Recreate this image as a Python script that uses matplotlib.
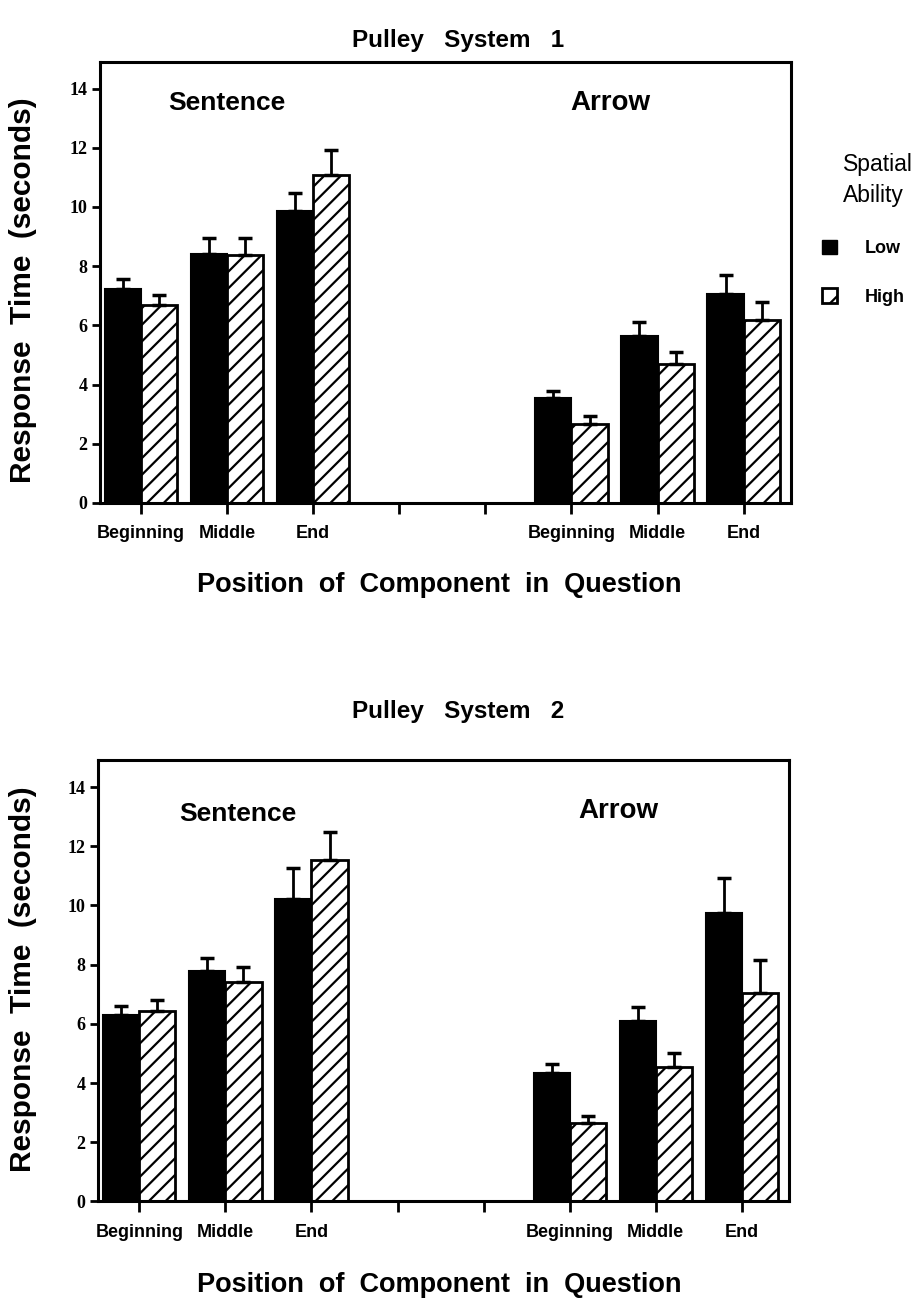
#! /usr/bin/env python3

import matplotlib
matplotlib.use("Agg")
import matplotlib.pyplot as plt
import matplotlib.patches as mpatches
import numpy as np

# group positions on the x axis (two empty slots between Sentence and Arrow)
positions = [0, 1, 2, 5, 6, 7]
tick_pos = [0, 1, 2, 3, 4, 5, 6, 7]
tick_labels = ['Beginning', 'Middle', 'End', '', '', 'Beginning', 'Middle', 'End']

# Pulley System 1
low1 = [7.23, 8.42, 9.85, 3.55, 5.63, 7.06]
low1_err = [0.34, 0.53, 0.62, 0.22, 0.48, 0.63]
high1 = [6.69, 8.38, 11.09, 2.68, 4.70, 6.17]
high1_err = [0.34, 0.57, 0.85, 0.25, 0.39, 0.62]

# Pulley System 2
low2 = [6.29, 7.79, 10.23, 4.33, 6.09, 9.73]
low2_err = [0.31, 0.45, 1.02, 0.31, 0.49, 1.21]
high2 = [6.43, 7.40, 11.55, 2.64, 4.53, 7.05]
high2_err = [0.37, 0.53, 0.93, 0.25, 0.49, 1.10]

SANS = ['Liberation Sans', 'DejaVu Sans']
SERIF = ['Liberation Serif', 'DejaVu Serif']

plt.rcParams['hatch.linewidth'] = 1.6
plt.rcParams['font.family'] = SANS


def draw_panel(ax, low, low_err, high, high_err, sent_xy, arrow_xy):
    w = 0.42
    x = np.array(positions, dtype=float)
    ax.bar(x - w, low, width=w, align='edge', color='black', edgecolor='black',
           linewidth=1.5, label='Low', zorder=2)
    ax.bar(x, high, width=w, align='edge', color='white', edgecolor='black',
           hatch='//', linewidth=2, label='High', zorder=2)
    ax.errorbar(x - w / 2, low, yerr=[np.zeros(len(low)), low_err], fmt='none',
                ecolor='black', elinewidth=2, capsize=5, capthick=2.5, zorder=3)
    ax.errorbar(x + w / 2, high, yerr=[np.zeros(len(high)), high_err], fmt='none',
                ecolor='black', elinewidth=2, capsize=5, capthick=2.5, zorder=3)

    ax.set_xlim(-0.48, 7.55)
    ax.set_ylim(0, 14.9)
    ax.set_yticks(range(0, 15, 2))
    ax.set_yticklabels([str(v) for v in range(0, 15, 2)], family=SERIF,
                       fontsize=13, fontweight='bold')
    ax.set_xticks(tick_pos)
    ax.set_xticklabels(tick_labels, fontsize=13, fontweight='bold')
    ax.tick_params(axis='x', direction='out', length=8, width=2, pad=8)
    ax.tick_params(axis='y', direction='out', length=6, width=2, pad=3)
    for s in ax.spines.values():
        s.set_linewidth(2.2)

    ax.text(sent_xy[0], sent_xy[1], 'Sentence', ha='center', va='center',
            fontsize=19, fontweight='bold')
    ax.text(arrow_xy[0], arrow_xy[1], 'Arrow', ha='center', va='center',
            fontsize=20, fontweight='bold')


fig = plt.figure(figsize=(9.16, 13.01), dpi=100)
ax1 = fig.add_axes([0.109, 0.6134, 0.7545, 0.3390])
ax2 = fig.add_axes([0.107, 0.0765, 0.7545, 0.3390])

draw_panel(ax1, low1, low1_err, high1, high1_err, (1.0, 13.5), (5.45, 13.5))
draw_panel(ax2, low2, low2_err, high2, high2_err, (1.15, 13.1), (5.57, 13.2))

fig.text(0.50, 0.969, 'Pulley   System   1', ha='center', va='center',
         fontsize=17.5, fontweight='bold')
fig.text(0.50, 0.453, 'Pulley   System   2', ha='center', va='center',
         fontsize=17.5, fontweight='bold')

for yc in (0.550, 0.0125):
    fig.text(0.480, yc, 'Position  of  Component  in  Question', ha='center',
             va='center', fontsize=19.5, fontweight='bold')

for yc in (0.777, 0.247):
    fig.text(0.025, yc, 'Response  Time  (seconds)',
             ha='center', va='center', rotation=90, fontsize=21.5, fontweight='bold')

# legend
fig.text(0.920, 1 - 180 / 1301, 'Spatial\nAbility',
         ha='left', va='center', fontsize=16.5, linespacing=1.45)
handles = [mpatches.Patch(facecolor='black', edgecolor='black', label='Low'),
           mpatches.Patch(facecolor='white', edgecolor='black', hatch='/',
                          linewidth=2, label='High')]
fig.legend(handles=handles, loc='upper left',
           bbox_to_anchor=(822 / 916, 1 - 240 / 1301),
           frameon=False, prop={'weight': 'bold', 'size': 13},
           handlelength=0.85, handleheight=0.85, handletextpad=1.5,
           labelspacing=1.7, borderpad=0, borderaxespad=0)

plt.savefig('out.png', dpi=100)
plt.close()
